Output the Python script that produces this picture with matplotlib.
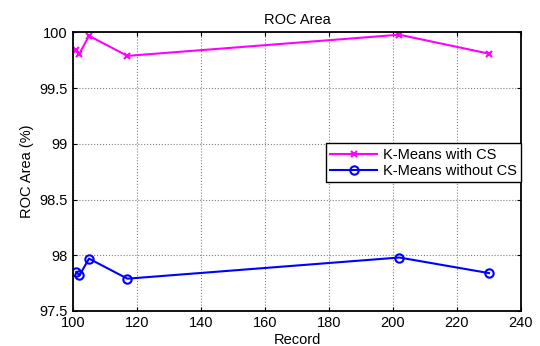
import matplotlib
matplotlib.use('agg')
import matplotlib.pyplot as plt

# records and ROC area (%)
records = [101, 102, 105, 117, 202, 230]
roc_with_cs = [99.84, 99.81, 99.97, 99.79, 99.98, 99.81]
roc_without_cs = [97.85, 97.82, 97.97, 97.79, 97.98, 97.84]

xticks = [100, 120, 140, 160, 180, 200, 220, 240]
yticks = [97.5, 98, 98.5, 99, 99.5, 100]
ytick_labels = ['97.5', '98', '98.5', '99', '99.5', '100']

plt.rcParams['font.family'] = ['Liberation Sans', 'DejaVu Sans']
fs = 10.5

fig = plt.figure(figsize=(5.4, 3.46), dpi=100)
ax = fig.add_axes([0.1352, 0.1012, 0.8296, 0.8049])

ax.plot(records, roc_with_cs, color='#ff00ff', marker='x', markersize=4.5,
        markeredgewidth=1.5, linewidth=1.5, label='K-Means with CS')
ax.plot(records, roc_without_cs, color='#0000ff', marker='o', markersize=6,
        markerfacecolor='none', markeredgewidth=1.5, linewidth=1.5,
        label='K-Means without CS')

ax.set_xlim(100, 240)
ax.set_ylim(97.5, 100)
ax.set_xticks(xticks)
ax.set_yticks(yticks)
ax.set_yticklabels(ytick_labels)
ax.tick_params(direction='in', top=True, right=True, length=3, width=0.8,
               labelsize=fs)
ax.tick_params(axis='x', pad=3.5)
ax.tick_params(axis='y', pad=4)
ax.grid(True, color='#808080', linestyle=':', linewidth=0.8)
for s in ax.spines.values():
    s.set_linewidth(1.3)

ax.set_title('ROC Area', fontsize=fs, pad=6)
ax.set_xlabel('Record', fontsize=fs, labelpad=2)
ax.set_ylabel('ROC Area (%)', fontsize=fs, labelpad=4)

leg = ax.legend(loc='upper right', bbox_to_anchor=(1.0, 0.602), fontsize=fs,
                fancybox=False, framealpha=1, edgecolor='black',
                borderpad=0.3, labelspacing=0.15, handlelength=3.2,
                handletextpad=0.4, borderaxespad=0.0)
leg.get_frame().set_linewidth(1.0)

fig.savefig('out.png', dpi=100)
